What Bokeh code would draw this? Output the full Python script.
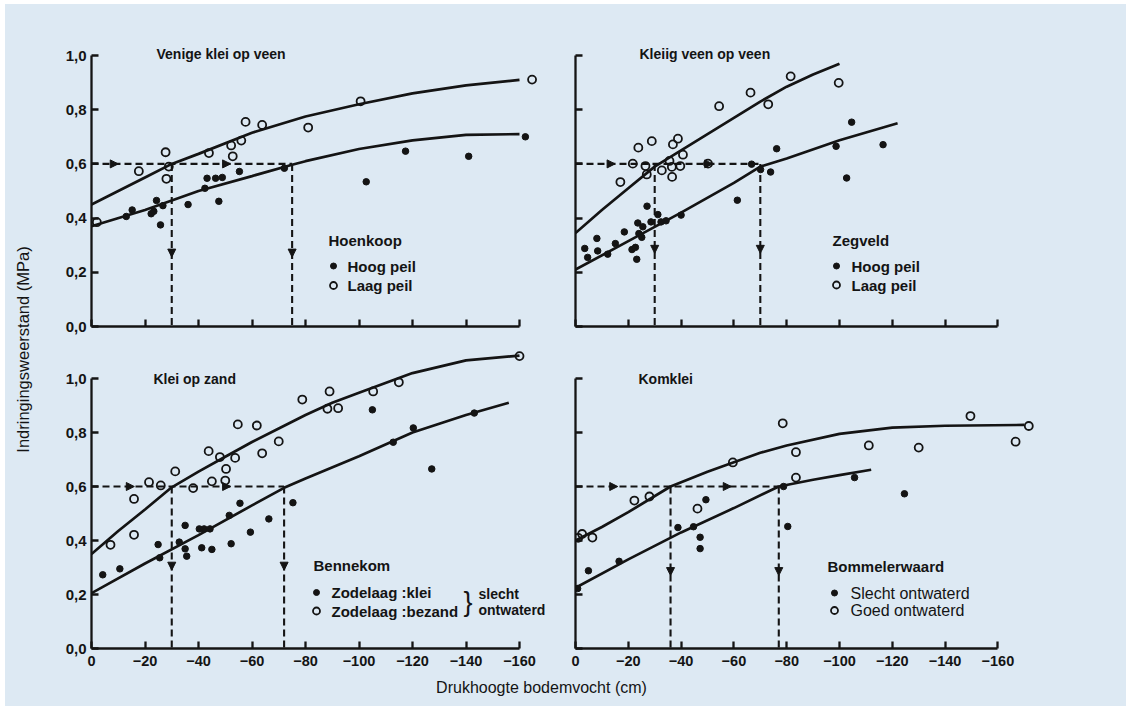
import math
from bokeh.plotting import figure
from bokeh.layouts import row, column
from bokeh.models import Range1d, FixedTicker, Arrow, NormalHead
from bokeh.core.properties import value
from bokeh.embed import file_html
from bokeh.resources import INLINE

# ---------------- data ----------------
x_ticks = [0, -20, -40, -60, -80, -100, -120, -140, -160]
x_tick_labels = ["0", "\u221220", "\u221240", "\u221260", "\u221280", "\u2212100",
                 "\u2212120", "\u2212140", "\u2212160"]
y_ticks = [0.0, 0.2, 0.4, 0.6, 0.8, 1.0]
y_tick_labels = ["0,0", "0,2", "0,4", "0,6", "0,8", "1,0"]

panel_titles = ["Venige klei op veen", "Kleiig veen op veen", "Klei op zand", "Komklei"]
legend_titles = ["Hoenkoop", "Zegveld", "Bennekom", "Bommelerwaard"]
filled_labels = ["Hoog peil", "Hoog peil", "Zodelaag :klei", "Slecht ontwaterd"]
open_labels = ["Laag peil", "Laag peil", "Zodelaag :bezand", "Goed ontwaterd"]
x_axis_label = "Drukhoogte bodemvocht (cm)"
y_axis_label = "Indringingsweerstand (MPa)"

# Panel 1 - Venige klei op veen (Hoenkoop)
p1_filled_x = [-13, -15.2, -22.3, -23.3, -24.3, -26.7, -25.8, -36.1, -42.4, -43.2, -46.4, -48.9,
               -47.6, -55.3, -72.1, -102.7, -117.4, -141, -162.2]
p1_filled_y = [0.406, 0.43, 0.416, 0.425, 0.465, 0.446, 0.375, 0.45, 0.51, 0.547, 0.547, 0.55,
               0.462, 0.572, 0.584, 0.534, 0.647, 0.628, 0.70]
p1_open_x = [-2, -17.7, -27.7, -28.9, -28, -43.9, -52.2, -52.8, -56, -57.6, -63.8, -81, -100.6, -164.7]
p1_open_y = [0.385, 0.573, 0.643, 0.59, 0.545, 0.64, 0.668, 0.628, 0.686, 0.755, 0.744, 0.734, 0.831, 0.911]
p1_curve_filled_x = [0, -20, -40, -60, -75, -80, -100, -120, -140, -160]
p1_curve_filled_y = [0.37, 0.43, 0.50, 0.555, 0.597, 0.61, 0.655, 0.687, 0.707, 0.71]
p1_curve_open_x = [0, -10, -20, -30, -40, -60, -80, -100, -120, -140, -160]
p1_curve_open_y = [0.45, 0.50, 0.55, 0.60, 0.637, 0.715, 0.775, 0.82, 0.86, 0.89, 0.91]
p1_read_x = [-30, -75]

# Panel 2 - Kleiig veen op veen (Zegveld)
p2_filled_x = [-3.5, -4.6, -8.1, -8.4, -12.2, -15.1, -18.5, -21.4, -22.7, -23.2, -23.6, -24, -25.1,
               -25.5, -27.1, -28.6, -31.2, -32.4, -34.3, -40, -61.3, -66.7, -70.1, -73.9, -76.2,
               -98.7, -102.7, -104.6, -116.5]
p2_filled_y = [0.288, 0.255, 0.325, 0.279, 0.267, 0.306, 0.349, 0.284, 0.292, 0.248, 0.382, 0.343,
               0.329, 0.368, 0.444, 0.386, 0.413, 0.386, 0.39, 0.411, 0.466, 0.599, 0.579, 0.57,
               0.656, 0.665, 0.548, 0.754, 0.671]
p2_open_x = [-17, -21.7, -23.8, -26.5, -27, -28.9, -32.7, -35.6, -36.5, -36.6, -36.9, -38.8, -39.7,
             -40.7, -50.2, -54.4, -66.3, -73, -81.5, -99.7]
p2_open_y = [0.533, 0.601, 0.66, 0.592, 0.561, 0.684, 0.576, 0.611, 0.589, 0.552, 0.672, 0.693,
             0.592, 0.634, 0.601, 0.813, 0.863, 0.82, 0.923, 0.899]
p2_curve_filled_x = [0, -20, -40, -60, -70, -80, -100, -122]
p2_curve_filled_y = [0.21, 0.315, 0.42, 0.53, 0.59, 0.62, 0.687, 0.75]
p2_curve_open_x = [0, -10, -20, -30, -40, -50, -60, -70, -80, -90, -100]
p2_curve_open_y = [0.345, 0.43, 0.51, 0.59, 0.65, 0.71, 0.77, 0.83, 0.885, 0.93, 0.97]
p2_read_x = [-30, -70]

# Panel 3 - Klei op zand (Bennekom)
p3_filled_x = [-4.2, -10.6, -24.9, -25.5, -32.8, -35, -35, -35.6, -40.3, -42.1, -44.3, -41.2, -45,
               -51.5, -52.2, -55.5, -59.4, -66.3, -75.3, -105, -112.8, -120.3, -127.2, -143.1]
p3_filled_y = [0.273, 0.295, 0.385, 0.336, 0.394, 0.456, 0.369, 0.342, 0.443, 0.443, 0.443, 0.373,
               0.367, 0.493, 0.388, 0.538, 0.431, 0.48, 0.54, 0.884, 0.764, 0.817, 0.665, 0.872]
p3_open_x = [-7.1, -15.9, -15.9, -21.5, -25.9, -31.3, -38, -43.8, -45, -48, -50, -50.3, -53.7, -54.7,
             -61.8, -63.8, -70, -78.8, -89, -88.2, -92.2, -105.3, -114.9, -160]
p3_open_y = [0.384, 0.554, 0.421, 0.616, 0.604, 0.656, 0.594, 0.731, 0.619, 0.709, 0.622, 0.665,
             0.706, 0.83, 0.826, 0.723, 0.767, 0.922, 0.952, 0.888, 0.89, 0.952, 0.986, 1.083]
p3_curve_filled_x = [0, -20, -40, -60, -72, -80, -100, -120, -140, -156]
p3_curve_filled_y = [0.205, 0.315, 0.42, 0.53, 0.595, 0.63, 0.712, 0.80, 0.865, 0.91]
p3_curve_open_x = [0, -10, -20, -30, -40, -50, -60, -70, -80, -90, -100, -120, -140, -160]
p3_curve_open_y = [0.35, 0.435, 0.515, 0.597, 0.655, 0.71, 0.765, 0.815, 0.865, 0.91, 0.947, 1.02,
                   1.067, 1.085]
p3_read_x = [-30, -72]

# Panel 4 - Komklei (Bommelerwaard)
p4_filled_x = [-0.8, -4.9, -16.5, -38.8, -44.7, -47.2, -47.2, -49.4, -78.8, -80.4, -105.7, -124.6]
p4_filled_y = [0.222, 0.288, 0.323, 0.448, 0.451, 0.412, 0.37, 0.551, 0.60, 0.452, 0.633, 0.573]
p4_open_x = [-1, -2.5, -6.4, -22.3, -28, -46.2, -59.6, -78.5, -83.5, -83.5, -111.1, -130, -149.6,
             -166.7, -171.7]
p4_open_y = [0.41, 0.424, 0.411, 0.548, 0.563, 0.518, 0.689, 0.834, 0.727, 0.633, 0.752, 0.744,
             0.861, 0.766, 0.824]
p4_curve_filled_x = [0, -20, -40, -60, -77, -90, -100, -112]
p4_curve_filled_y = [0.225, 0.33, 0.43, 0.52, 0.60, 0.625, 0.642, 0.662]
p4_curve_open_x = [0, -10, -20, -36, -50, -60, -70, -80, -100, -120, -140, -170]
p4_curve_open_y = [0.40, 0.45, 0.505, 0.60, 0.655, 0.69, 0.725, 0.752, 0.795, 0.818, 0.825, 0.828]
p4_read_x = [-36, -77]

read_y = 0.6
h_arrow_x = [[-10, -52], [-15, -52], [-16, -52], [-16, -59]]
v_arrow_y = [0.256, 0.27, 0.29, 0.27]

# ---------------- style / layout ----------------
BG = "#dde9f3"
INK = "#141414"
FONT = "Liberation Sans"

OX, OY = 5, 4                 # where the blue sheet starts on the page
LABEL_W = 50 - OX
LEFT_W, RIGHT_W = 517, 1126 - 567
TOP_H, BOT_H = 340 - OY, 332
STRIP_H = 706 - 672

# reference-pixel geometry of each panel: frame left, zero line, px per cm, px per MPa
geom = [
    dict(L=91, Y0=326, sx=2.675, ky=271, left=True, bottom=False),
    dict(L=575, Y0=326, sx=2.64, ky=271, left=False, bottom=False),
    dict(L=91, Y0=648, sx=2.675, ky=270, left=True, bottom=True),
    dict(L=575, Y0=648, sx=2.64, ky=270, left=False, bottom=True),
]
title_pos = [(156, 53), (639, 53), (153, 378), (638, 378)]
legend_pos = [  # head (x,y), dot x, text x, row ys
    ((328, 240), 333, 347, (265.5, 285)),
    ((832, 240), 836, 851, (265.5, 284.5)),
    ((313, 565), 316, 331, (592, 610.5)),
    ((827, 566), 834, 850, (592.5, 610)),
]
item_sizes = ["15px", "15px", "15px", "16px"]

panels = [
    (p1_filled_x, p1_filled_y, p1_open_x, p1_open_y, p1_curve_filled_x, p1_curve_filled_y,
     p1_curve_open_x, p1_curve_open_y, p1_read_x),
    (p2_filled_x, p2_filled_y, p2_open_x, p2_open_y, p2_curve_filled_x, p2_curve_filled_y,
     p2_curve_open_x, p2_curve_open_y, p2_read_x),
    (p3_filled_x, p3_filled_y, p3_open_x, p3_open_y, p3_curve_filled_x, p3_curve_filled_y,
     p3_curve_open_x, p3_curve_open_y, p3_read_x),
    (p4_filled_x, p4_filled_y, p4_open_x, p4_open_y, p4_curve_filled_x, p4_curve_filled_y,
     p4_curve_open_x, p4_curve_open_y, p4_read_x),
]


def make_panel(i):
    g = geom[i]
    fx, fy, ox, oy, cfx, cfy, cox, coy, rx = panels[i]
    width = LEFT_W if g["left"] else RIGHT_W
    height = BOT_H if g["bottom"] else TOP_H
    mb_left = 41 if g["left"] else 8
    mb_top = 5 if g["bottom"] else 35 - OY
    mb_bottom = 24 if g["bottom"] else 14
    frame_w = width - mb_left
    frame_h = height - mb_top - mb_bottom
    p = figure(width=width, height=height,
               x_range=Range1d(0, -frame_w / g["sx"]),
               y_range=Range1d(0, frame_h / g["ky"]),
               toolbar_location=None, output_backend="svg",
               min_border_left=mb_left, min_border_right=0,
               min_border_top=mb_top, min_border_bottom=mb_bottom,
               background_fill_color=BG, border_fill_color=BG,
               outline_line_color=None, styles={"background-color": BG})
    p.grid.visible = False
    for ax in (p.xaxis[0], p.yaxis[0]):
        ax.axis_line_width = 2.3
        ax.axis_line_color = INK
        ax.major_tick_line_width = 2.3
        ax.major_tick_line_color = INK
        ax.major_tick_in = 7
        ax.major_tick_out = 0
        ax.minor_tick_line_color = None
        ax.major_label_text_font = FONT
        ax.major_label_text_color = INK
    p.xaxis.ticker = FixedTicker(ticks=x_ticks)
    p.xaxis.bounds = (-160, 0)
    p.xaxis.major_label_overrides = dict(zip(x_ticks, x_tick_labels))
    p.xaxis.major_label_text_font_style = "bold"
    p.yaxis.ticker = FixedTicker(ticks=y_ticks)
    p.yaxis.bounds = (0, 1.0)
    p.yaxis.major_label_overrides = dict(zip(y_ticks, y_tick_labels))
    p.yaxis.major_label_text_font_style = "bold"
    p.yaxis.major_label_text_font_size = "15px"
    p.yaxis.major_label_standoff = 5
    p.xaxis.major_label_text_font_size = "14.5px"
    p.xaxis.major_label_standoff = 7
    if not g["bottom"]:
        # ticks only, no tick labels on the upper panels
        p.xaxis.major_label_text_font_size = "1px"
        p.xaxis.major_label_text_color = None
        p.xaxis.major_label_standoff = 0
    if not g["left"]:
        p.yaxis.major_label_text_font_size = "1px"
        p.yaxis.major_label_text_color = None
        p.yaxis.major_label_standoff = 0

    def d(px, py):
        return (-(px - g["L"]) / g["sx"], (g["Y0"] - py) / g["ky"])

    # reading guides (dashed)
    dash = dict(line_dash="7 4", line_width=2.1, color=INK)
    p.line([0, rx[-1]], [read_y, read_y], **dash)
    for r in rx:
        p.line([r, r], [read_y, 0], **dash)
    head = dict(size=8, fill_color=INK, line_color=INK, line_width=1)
    for ax_ in h_arrow_x[i]:
        p.add_layout(Arrow(end=NormalHead(**head), x_start=ax_ + 3, y_start=read_y,
                           x_end=ax_, y_end=read_y, line_width=2, line_color=INK))
    for r in rx:
        p.add_layout(Arrow(end=NormalHead(**head), x_start=r, y_start=v_arrow_y[i] + 0.03,
                           x_end=r, y_end=v_arrow_y[i], line_width=2, line_color=INK))

    # fitted curves
    p.line(cox, coy, line_width=2.7, color=INK)
    p.line(cfx, cfy, line_width=2.7, color=INK)

    # observations
    p.scatter(fx, fy, marker="circle", size=6.5, fill_color=INK, line_color=INK)
    p.scatter(ox, oy, marker="circle", size=8, fill_color=None, line_color=INK, line_width=1.8)

    # title
    tx, ty = d(*title_pos[i])
    p.text([tx], [ty], text=[panel_titles[i]], text_font=value(FONT), text_font_style="bold",
           text_font_size="14px", text_baseline="middle", text_align="left", text_color=INK)

    # legend
    (hx, hy), dotx, textx, rows = legend_pos[i]
    lx, ly = d(hx, hy)
    p.text([lx], [ly], text=[legend_titles[i]], text_font=value(FONT), text_font_style="bold",
           text_font_size="15px", text_baseline="middle", text_align="left", text_color=INK)
    item_style = "normal" if i == 3 else "bold"
    dx1, dy1 = d(dotx, rows[0])
    dx2, dy2 = d(dotx, rows[1])
    p.scatter([dx1], [dy1], marker="circle", size=6, fill_color=INK, line_color=INK)
    p.scatter([dx2], [dy2], marker="circle", size=7, fill_color=None, line_color=INK, line_width=1.8)
    t1x, t1y = d(textx, rows[0])
    t2x, t2y = d(textx, rows[1])
    p.text([t1x, t2x], [t1y, t2y], text=[filled_labels[i], open_labels[i]], text_font=value(FONT),
           text_font_style=item_style, text_font_size=item_sizes[i], text_baseline="middle",
           text_align="left", text_color=INK)
    if i == 2:
        bx, by = d(463, 601)
        p.text([bx], [by], text=["}"], text_font=value(FONT), text_font_size="27px",
               text_baseline="middle", text_align="left", text_color=INK)
        sx1, sy1 = d(478, 593)
        sx2, sy2 = d(478, 609)
        p.text([sx1, sx2], [sy1, sy2], text=["slecht", "ontwaterd"], text_font=value(FONT),
               text_font_style="bold", text_font_size="14px", text_baseline="middle",
               text_align="left", text_color=INK)
    return p


figs = [make_panel(i) for i in range(4)]

# y-axis label strip
full_h = TOP_H + BOT_H + STRIP_H
ylab = figure(width=LABEL_W, height=full_h, x_range=Range1d(0, 1), y_range=Range1d(0, 1),
              toolbar_location=None, output_backend="svg", min_border=0,
              x_axis_location=None, y_axis_location=None,
              background_fill_color=BG, border_fill_color=BG, outline_line_color=None,
              styles={"background-color": BG})
ylab.grid.visible = False
ylab.text([(22 - OX) / LABEL_W], [1 - (349 - OY) / full_h], text=[y_axis_label],
          angle=math.pi / 2, text_font=value(FONT), text_font_size="16.5px",
          text_align="center", text_baseline="middle", text_color=INK)

# x-axis label strip
strip_w = LEFT_W + RIGHT_W
xlab = figure(width=strip_w, height=STRIP_H, x_range=Range1d(0, 1), y_range=Range1d(0, 1),
              toolbar_location=None, output_backend="svg", min_border=0,
              x_axis_location=None, y_axis_location=None,
              background_fill_color=BG, border_fill_color=BG, outline_line_color=None,
              styles={"background-color": BG})
xlab.grid.visible = False
xlab.text([(541 - 50) / strip_w], [1 - (687 - 672) / STRIP_H], text=[x_axis_label],
          text_font=value(FONT), text_font_size="16px", text_align="center",
          text_baseline="middle", text_color=INK)

bg = {"background-color": BG}
layout = row(
    ylab,
    column(row(figs[0], figs[1], spacing=0, styles=bg),
           row(figs[2], figs[3], spacing=0, styles=bg),
           xlab, spacing=0, styles=bg),
    spacing=0, styles=bg, margin=(OY, 0, 0, OX))

with open("out.html", "w") as f:
    f.write(file_html(layout, INLINE))
